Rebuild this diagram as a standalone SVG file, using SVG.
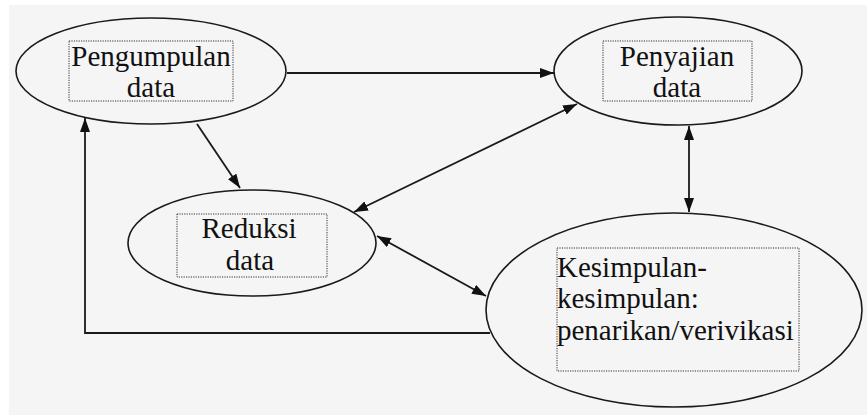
<svg xmlns="http://www.w3.org/2000/svg" width="867" height="415" viewBox="0 0 867 415">
<style>
.node{fill:none;stroke:#1a1a1a;stroke-width:1.6}
.box{fill:none;stroke:#333;stroke-width:1;stroke-dasharray:1.2 1.2}
.conn{fill:none;stroke:#1a1a1a;stroke-width:1.8}
.t{font-family:"Times New Roman","Liberation Serif",Tinos,serif;font-size:29px;fill:#111}
.m{text-anchor:middle}
</style>
<defs>
<marker id="ah" viewBox="0 0 14 10" refX="14" refY="5" markerWidth="14" markerHeight="10" orient="auto-start-reverse" markerUnits="userSpaceOnUse">
<path d="M0,0 L14,5 L0,10 z" fill="#111"/>
</marker>
</defs>
<rect x="0" y="0" width="867" height="415" fill="#ffffff"/>
<rect x="9" y="5" width="858" height="410" fill="#f5f5f5"/>
<g id="n-pengumpulan">
<ellipse class="node" cx="151" cy="71" rx="135" ry="53"/>
<rect class="box" x="69" y="41" width="164" height="60"/>
<text class="t m" x="151" y="66">Pengumpulan</text>
<text class="t m" x="151" y="97">data</text>
</g>
<g id="n-penyajian">
<ellipse class="node" cx="678" cy="71" rx="124" ry="54"/>
<rect class="box" x="603" y="41" width="149" height="60"/>
<text class="t m" x="677" y="66">Penyajian</text>
<text class="t m" x="677" y="97">data</text>
</g>
<g id="n-reduksi">
<ellipse class="node" cx="252" cy="243" rx="124" ry="53"/>
<rect class="box" x="177" y="214" width="150" height="63"/>
<text class="t m" x="249" y="238">Reduksi</text>
<text class="t m" x="250" y="270">data</text>
</g>
<g id="n-kesimpulan">
<ellipse class="node" cx="674" cy="310" rx="188" ry="97"/>
<rect class="box" x="557" y="248" width="242" height="123"/>
<text class="t" x="557" y="277">Kesimpulan-</text>
<text class="t" x="557" y="308">kesimpulan:</text>
<text class="t" x="557" y="340">penarikan/verivikasi</text>
</g>
<g id="connectors">
<line class="conn" x1="287" y1="73" x2="554" y2="73" marker-end="url(#ah)"/>
<line class="conn" x1="197" y1="124" x2="240" y2="188" marker-end="url(#ah)"/>
<line class="conn" x1="577" y1="104" x2="354" y2="212" marker-start="url(#ah)" marker-end="url(#ah)"/>
<line class="conn" x1="689" y1="126" x2="689" y2="212" marker-start="url(#ah)" marker-end="url(#ah)"/>
<line class="conn" x1="377" y1="236" x2="486" y2="296" marker-start="url(#ah)" marker-end="url(#ah)"/>
<polyline class="conn" points="490,333 85,333 85,118" marker-end="url(#ah)"/>
</g>
</svg>
